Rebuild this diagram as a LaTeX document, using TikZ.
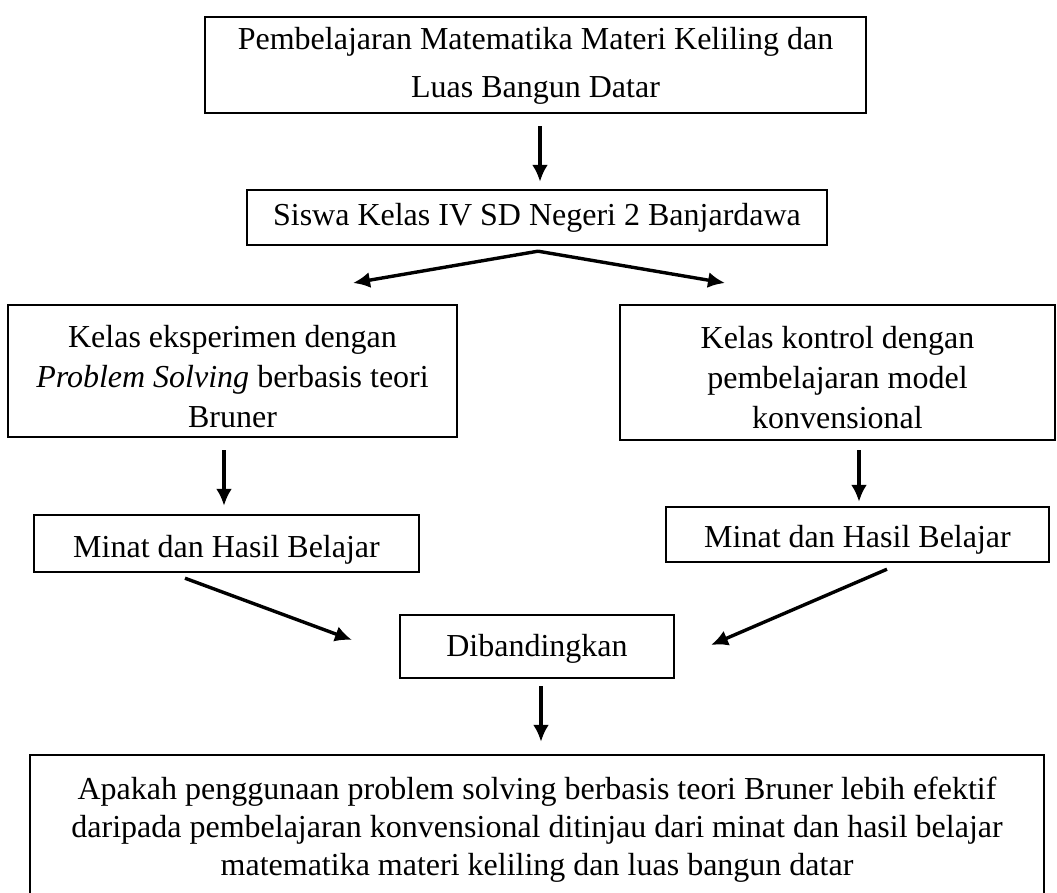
\documentclass[tikz,border=0pt]{standalone}
\usepackage{fontspec}
\setmainfont{Liberation Serif}
\usetikzlibrary{arrows.meta,calc}
\newcommand\fsz{\fontsize{32}{40}\selectfont}
\begin{document}
\begin{tikzpicture}[x=1pt,y=-1pt,
  box/.style={draw, line width=2.4pt, inner sep=0pt},
  txt/.style={align=center, font=\fsz, inner sep=0pt},
  arr/.style={-{Latex[length=17pt,width=16pt]}, line width=3.4pt}]
\useasboundingbox (0,0) rectangle (1057,893);
\fill[white] (0,0) rectangle (1057,893);
% boxes
\node[box, minimum width=661pt, minimum height=96pt] (b1) at (535.5,65) {};
\node[box, minimum width=580pt, minimum height=55pt] (b2) at (537,217.5) {};
\node[box, minimum width=449pt, minimum height=132pt] (bL) at (232.5,371) {};
\node[box, minimum width=435pt, minimum height=135pt] (bR) at (837.5,372.5) {};
\node[box, minimum width=385pt, minimum height=57pt] (mL) at (226.5,543.5) {};
\node[box, minimum width=383pt, minimum height=55pt] (mR) at (857.5,534.5) {};
\node[box, minimum width=274pt, minimum height=63pt] (d) at (537,646.5) {};
\node[box, minimum width=1014pt, minimum height=145pt] (bot) at (537,827.5) {};
% texts
\node[txt] (t1) at ($(b1)+(0,1)$) {Pembelajaran Matematika Materi Keliling dan\\[8pt]Luas Bangun Datar};
\node[txt] (t2) at ($(b2)+(0,0)$) {Siswa Kelas IV SD Negeri 2 Banjardawa};
\node[txt] (tL) at ($(bL)+(0,6)$) {Kelas eksperimen dengan\\\textit{Problem Solving} berbasis teori\\Bruner};
\node[txt] (tR) at ($(bR)+(0,5)$) {Kelas kontrol dengan\\pembelajaran model\\konvensional};
\node[txt] (tmL) at ($(mL)+(0,6)$) {Minat dan Hasil Belajar};
\node[txt] (tmR) at ($(mR)+(0,5)$) {Minat dan Hasil Belajar};
\node[txt] (td) at ($(d)+(0,2)$) {Dibandingkan};
\node[txt, font=\fontsize{32}{38}\selectfont] (tb) at ($(bot)+(0,2)$)
  {Apakah penggunaan problem solving berbasis teori Bruner lebih efektif\\daripada pembelajaran konvensional ditinjau dari minat dan hasil belajar\\matematika materi keliling dan luas bangun datar};
% connectors
\coordinate (tl) at (353,283);
\coordinate (tr) at (725,283);
\coordinate (dl) at (352,640);
\coordinate (dr) at (711,645);
\draw[arr] ($(b1.south)+(4.5,12)$) -- ($(b2.north)+(3,-7)$);
\draw[arr] ($(b2.south)+(1,5)$) -- (tl);
\draw[arr] ($(b2.south)+(1,5)$) -- (tr);
\draw[arr] ($(bL.south)+(-8.5,12)$) -- ($(mL.north)+(-2.5,-8)$);
\draw[arr] ($(bR.south)+(21.5,9)$) -- ($(mR.north)+(1.5,-4)$);
\draw[arr] ($(mL.south)+(-41.5,5)$) -- (dl);
\draw[arr] ($(mR.south)+(29.5,6)$) -- (dr);
\draw[arr] ($(d.south)+(4,7)$) -- ($(bot.north)+(4,-12)$);
\end{tikzpicture}
\end{document}
